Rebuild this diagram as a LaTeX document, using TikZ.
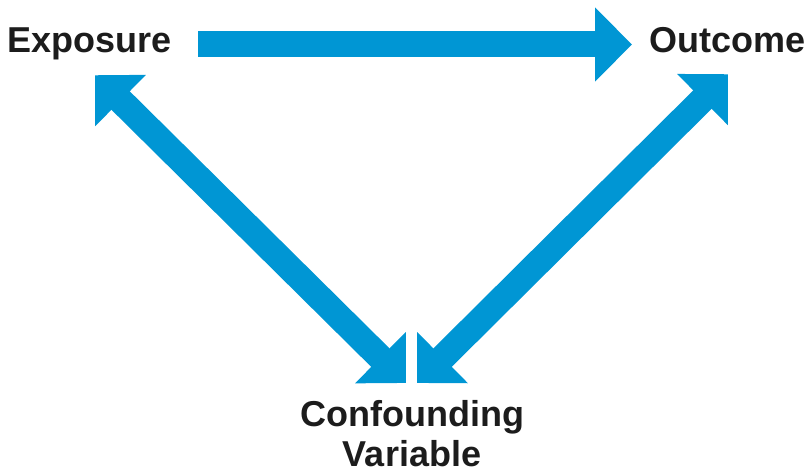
\documentclass[tikz,border=0pt]{standalone}
\usepackage{fontspec}
\setmainfont{Liberation Sans}
\usetikzlibrary{arrows.meta,positioning,calc}
\definecolor{sky}{HTML}{0096D4}
\definecolor{ink}{HTML}{1C1C1C}
\tikzset{lbl/.style={inner sep=0pt,font=\bfseries\fontsize{36}{40}\selectfont,text=ink,align=center},fat/.style={draw=sky,line width=26pt}}

\begin{document}
\begin{tikzpicture}[x=1pt,y=-1pt]
\useasboundingbox (0,0) rectangle (810,473);
\node[lbl,text height=26pt,text depth=9pt,anchor=base east] (expo) at (172,53) {Exposure};
\node[lbl,text height=26pt,text depth=9pt,anchor=base west] (outc) at (649,53) {Outcome};
\node[lbl,anchor=north] (conf) at (412,400) {Confounding\\Variable};
\draw[fat,-{Triangle[length=37pt,width=72pt]},shorten <=26pt,shorten >=17pt](expo.east)--(outc.west);
\draw[fat,{Triangle[length=36pt,width=70pt]}-{Triangle[length=36pt,width=70pt]}]([shift={(-77,13)}]expo.south east)--([shift={(-6,-17)}]conf.north);
\draw[fat,{Triangle[length=36pt,width=70pt]}-{Triangle[length=36pt,width=70pt]}]([shift={(5,-17)}]conf.north)--([shift={(79,12)}]outc.south west);
\end{tikzpicture}
\end{document}
